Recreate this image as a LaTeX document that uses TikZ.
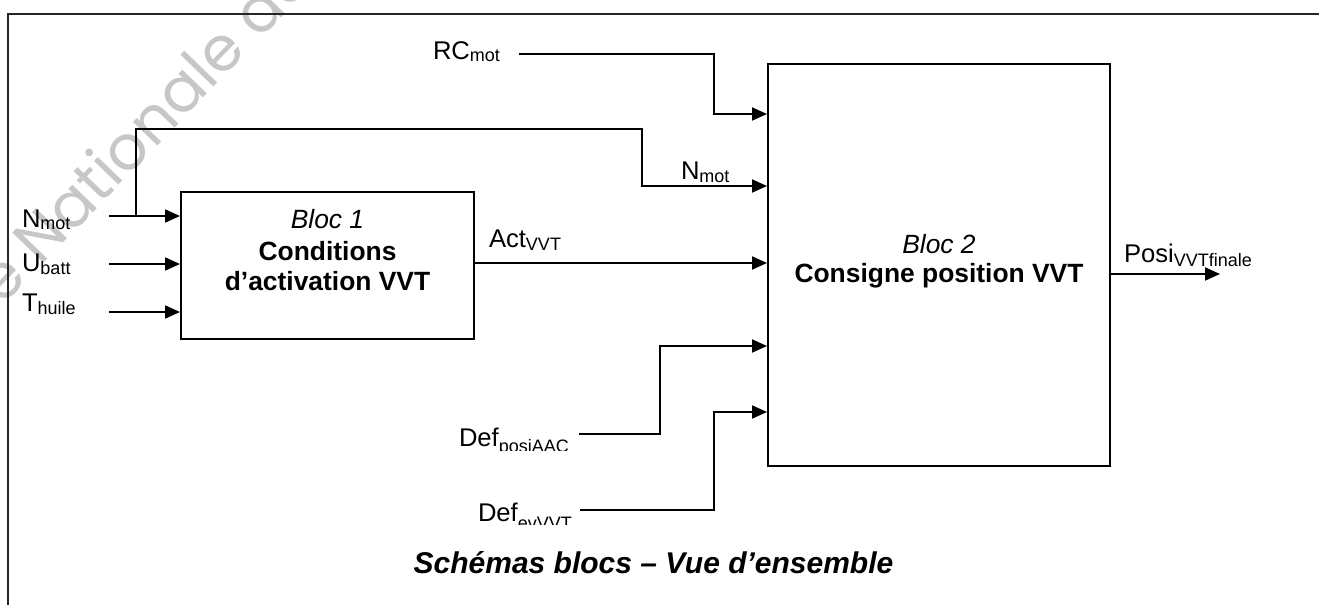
\documentclass[tikz,border=0pt]{standalone}
\usepackage{fontspec}
\setmainfont{Liberation Sans}
\newfontfamily\wmfont{Poppins}
\usetikzlibrary{arrows.meta}
\newcommand\sbs[2][1.5pt]{\raisebox{-#1}{\fontsize{9}{9}\selectfont #2}}
\begin{document}
\begin{tikzpicture}[x=0.5pt,y=-0.5pt,
  line width=1pt,
  blockbox/.style={draw, line width=1pt, inner sep=0pt},
  sig/.style={line width=1pt, -{Triangle[length=7.5pt,width=6.5pt]}},
  lbl/.style={inner sep=0pt, anchor=base west, font=\fontsize{12.8}{15}\selectfont},
  btxt/.style={inner sep=0pt, anchor=base, font=\fontsize{13.2}{15}\selectfont},
  wm/.style={inner sep=0pt, anchor=base west, text=black!22, font=\wmfont\fontsize{31}{31}\selectfont},
]
\useasboundingbox (0,0) rectangle (1319,605);
% watermark
\begin{scope}
\clip (0,0) rectangle (1319,605);
\node[wm, rotate=46] (wmk) at (2,307) {e Nationale de};
\end{scope}
% frame
\draw[line width=1pt, black!85] (8,605) -- (8,14) -- (1319,14);
% blocks
\node[blockbox, minimum width=146.5pt, minimum height=73.5pt] (b1) at (327.5,265.5) {};
\node[blockbox, minimum width=171pt, minimum height=201pt] (b2) at (939,265) {};
\node[btxt] (b1a) at (327.5,228) {\itshape Bloc 1};
\node[btxt] (b1b) at (327.5,260) {\bfseries Conditions};
\node[btxt] (b1c) at (327.5,290) {\bfseries d’activation VVT};
\node[btxt] (b2a) at (939,253) {\itshape Bloc 2};
\node[btxt] (b2b) at (939,282) {\bfseries Consigne position VVT};
% labels
\node[lbl] (lN1) at (21,227) {N\sbs{mot}};
\node[lbl] (lU) at (21,271) {U\sbs{batt}};
\node[lbl] (lT) at (21,311) {T\sbs{huile}};
\node[lbl] (lRC) at (432,59) {RC\sbs{mot}};
\node[lbl] (lN2) at (680,179) {N\sbs{mot}};
\node[lbl] (lAct) at (488,247) {Act\sbs{VVT}};
\node[lbl] (lPosi) at (1123,262) {Posi\sbs[2pt]{VVTfinale}};
\begin{scope}
\clip (440,400) rectangle (578,450.7);
\node[lbl] (lDP) at (458,446) {Def\sbs[3pt]{posiAAC}};
\end{scope}
\begin{scope}
\clip (460,480) rectangle (578,524.3);
\node[lbl] (lDE) at (477,521) {Def\sbs[4pt]{evVVT}};
\end{scope}
\node[inner sep=0pt, anchor=base, font=\fontsize{15}{18}\selectfont\bfseries\itshape] (title) at (653.5,573) {Schémas blocs – Vue d’ensemble};
% coordinates
\coordinate (s1) at (109,216);
\coordinate (s2) at (109,264);
\coordinate (s3) at (109,312);
\coordinate (brS) at (136,216);
\coordinate (brK) at (642,129);
\coordinate (brL) at (642,186);
\coordinate (rcS) at (519,54);
\coordinate (rcK) at (714,114);
\coordinate (actY) at (600,263);
\coordinate (dpS) at (579,434);
\coordinate (dpK) at (660,346);
\coordinate (deS) at (580,510);
\coordinate (deK) at (714,412);
\coordinate (outE) at (1220,274);
% connectors
\draw[sig] (s1) -- (b1.west |- s1);
\draw[sig] (s2) -- (b1.west |- s2);
\draw[sig] (s3) -- (b1.west |- s3);
\draw[sig] (brS) |- (brK) -- (brL) -- (b2.west |- brL);
\draw[sig] (rcS) -| (rcK) -- (b2.west |- rcK);
\draw[sig] (b1.east |- actY) -- (b2.west |- actY);
\draw[sig] (dpS) -| (dpK) -- (b2.west |- dpK);
\draw[sig] (deS) -| (deK) -- (b2.west |- deK);
\draw[sig] (b2.east |- outE) -- (outE);
\end{tikzpicture}
\end{document}
